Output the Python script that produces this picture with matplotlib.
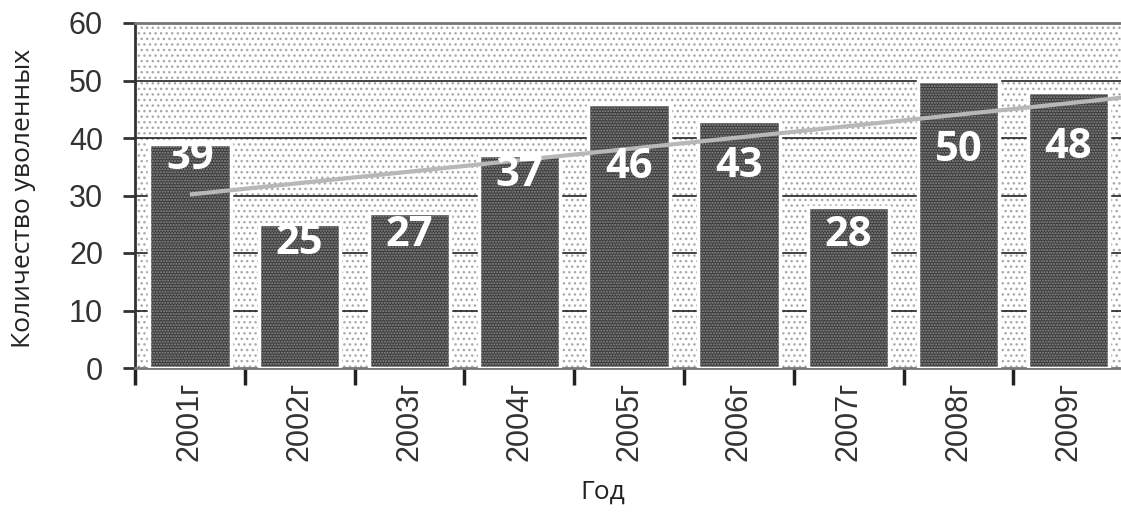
import matplotlib
matplotlib.use("Agg")
import matplotlib.pyplot as plt
from matplotlib.patches import Rectangle
import numpy as np

years = ["2001г", "2002г", "2003г", "2004г", "2005г", "2006г", "2007г", "2008г", "2009г"]
values = [39, 25, 27, 37, 46, 43, 28, 50, 48]
yticks = [0, 10, 20, 30, 40, 50, 60]

# layout: where the value labels sit (data units, label centre)
label_y = [36.5, 21.6, 23.1, 33.4, 34.8, 35.1, 23.1, 37.9, 38.3]

fig = plt.figure(figsize=(11.21, 5.17), dpi=100)
ax = fig.add_axes([135 / 1121, 1 - 368 / 517, 1 - 135 / 1121 + 0.002, (368 - 23) / 517])

x = np.arange(len(years))
ax.set_xlim(-0.5, len(years) - 0.5)
ax.set_ylim(0, 60)

# dotted background
bg = Rectangle((0, 0), 1, 1, transform=ax.transAxes, facecolor="white",
               edgecolor="#a8a8a8", hatch="...", linewidth=0, zorder=0)
ax.add_patch(bg)

# gridlines
for t in yticks[1:-1]:
    ax.axhline(t, color="#222222", linewidth=1.2, zorder=1)

# bars
ax.bar(x, values, width=0.74, color="#3c3c3c", edgecolor="#8c8c8c",
       hatch="......", linewidth=0, zorder=2)
ax.bar(x, values, width=0.74, facecolor="none", edgecolor="white",
       linewidth=2.5, zorder=3)

# linear trend
coef = np.polyfit(x, values, 1)
xt = np.array([0, len(years) - 0.5])
ax.plot(xt, np.polyval(coef, xt), color="#b8b8b8", linewidth=3, zorder=4,
        solid_capstyle="butt")

# value labels
for xi, v, ly in zip(x, values, label_y):
    ax.text(xi, ly, str(v), ha="center", va="center", color="white",
            fontsize=30, fontweight="bold", family="Open Sans", zorder=5)

# spines
ax.spines["right"].set_visible(False)
ax.spines["top"].set_color("#777777")
ax.spines["top"].set_linewidth(2)
ax.spines["left"].set_color("#333333")
ax.spines["left"].set_linewidth(2)
ax.spines["bottom"].set_color("#777777")
ax.spines["bottom"].set_linewidth(2)

ax.set_yticks(yticks)
ax.set_yticklabels([str(t) for t in yticks], fontsize=22, family="Liberation Sans",
                   color="#333333")
ax.tick_params(axis="y", direction="out", length=9, width=2, color="#333333", pad=14)

ax.set_xticks(x)
ax.set_xticklabels(years, rotation=90, fontsize=22, family="Liberation Sans",
                   color="#333333")
ax.tick_params(axis="x", which="major", length=0, pad=10)
ax.set_xticks(np.arange(-0.5, len(years), 1.0), minor=True)
ax.tick_params(axis="x", which="minor", direction="out", length=12, width=2.5,
               color="#222222")

fig.text(24 / 1121, 1 - 198 / 517, "Количество уволенных", rotation=90,
         ha="center", va="center", fontsize=19, family="Open Sans", color="#222222")
fig.text(603 / 1121, 1 - 492 / 517, "Год", ha="center", va="center",
         fontsize=19, family="Open Sans", color="#222222")

fig.savefig("out.png", dpi=100)
